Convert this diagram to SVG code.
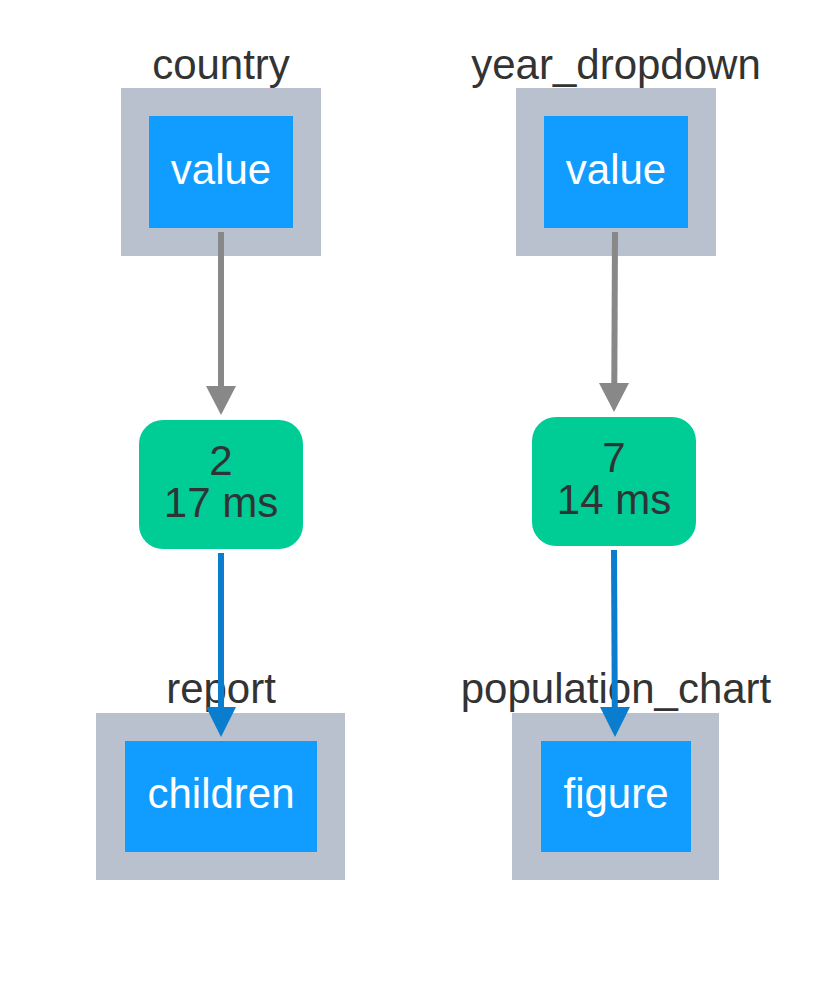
<svg xmlns="http://www.w3.org/2000/svg" width="834" height="985" viewBox="0 0 834 985">
<defs>
<style>
text{font-family:"Liberation Sans",Arial,sans-serif;font-size:42px;text-anchor:middle}
.lbl{fill:#333333}
.outer{fill:#B9C1CE}
.inner{fill:#119DFF}
.in{fill:#ffffff}
.cb{fill:#00CC96}
.ct{fill:#2d3436}
.eg{stroke:#888888;stroke-width:6;fill:none}
.eb{stroke:#0B7DCF;stroke-width:6;fill:none}
</style>
</defs>
<rect width="834" height="985" fill="#ffffff"/>
<g id="country">
<text class="lbl" x="221" y="79">country</text>
<rect class="outer" x="121" y="88" width="200" height="168"/>
<rect class="inner" x="149" y="116" width="144" height="112"/>
<text class="in" x="221" y="184">value</text>
</g>
<g id="year_dropdown">
<text class="lbl" x="616" y="79">year_dropdown</text>
<rect class="outer" x="516" y="88" width="200" height="168"/>
<rect class="inner" x="544" y="116" width="144" height="112"/>
<text class="in" x="616" y="184">value</text>
</g>
<g id="callback1">
<rect class="cb" x="139" y="420" width="164" height="129" rx="24"/>
<text class="ct" x="221" y="475"><tspan x="221" y="475">2</tspan><tspan x="221" y="517">17 ms</tspan></text>
</g>
<g id="callback2">
<rect class="cb" x="532" y="417" width="164" height="129" rx="24"/>
<text class="ct" x="614" y="472"><tspan x="614" y="472">7</tspan><tspan x="614" y="514">14 ms</tspan></text>
</g>
<g id="report">
<text class="lbl" x="221" y="703">report</text>
<rect class="outer" x="96" y="713" width="249" height="167"/>
<rect class="inner" x="125" y="741" width="192" height="111"/>
<text class="in" x="221" y="808">children</text>
</g>
<g id="population_chart">
<text class="lbl" x="616" y="703">population_chart</text>
<rect class="outer" x="512" y="713" width="207" height="167"/>
<rect class="inner" x="541" y="741" width="150" height="111"/>
<text class="in" x="616" y="808">figure</text>
</g>
<g id="connectors">
<line class="eg" x1="221" y1="232" x2="221" y2="388"/>
<path d="M206,386 L236,386 L221,415 Z" fill="#888888"/>
<line class="eg" x1="615" y1="232" x2="614.3" y2="385"/>
<path d="M599,383 L629,383 L614,412 Z" fill="#888888"/>
<line class="eb" x1="221" y1="553" x2="221" y2="710"/>
<path d="M206,707 L236,707 L221,737 Z" fill="#0B7DCF"/>
<line class="eb" x1="614" y1="550" x2="614.8" y2="710"/>
<path d="M600,707 L630,707 L615,737 Z" fill="#0B7DCF"/>
</g>
</svg>
